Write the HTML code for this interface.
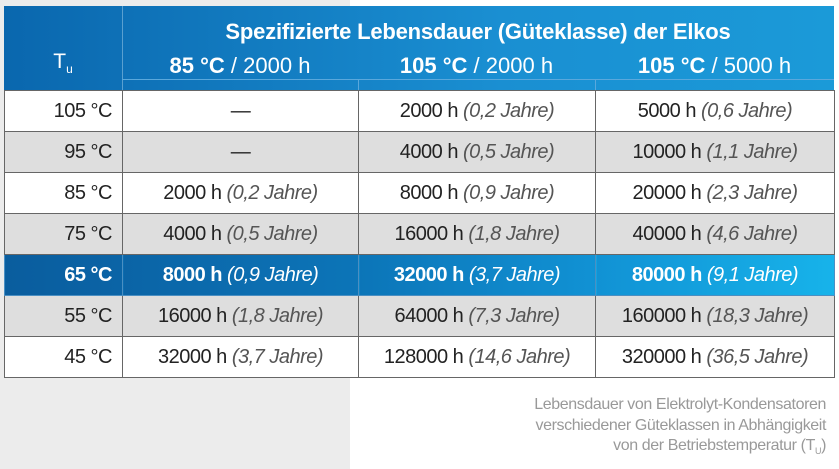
<!DOCTYPE html>
<html><head><meta charset="utf-8"><style>
body{margin:0;width:839px;height:469px;position:relative;overflow:hidden;background:#fff;font-family:"Liberation Sans",sans-serif}
.bgL{position:absolute;left:0;top:0;width:350px;height:469px;background:#ececec}
.bgT{position:absolute;left:0;top:0;width:839px;height:6px;background:#ececec}
.bgT2{position:absolute;left:350px;top:0;width:489px;height:6px;background:#fff}
table{position:absolute;left:4px;top:6px;border-collapse:collapse;width:831px}
td{border:1px solid #666;height:40px;padding:0;font-size:20px;color:#222;text-align:center;letter-spacing:-0.5px;white-space:nowrap}
td.t{text-align:right;padding-right:10px;width:107px}
td i{color:#555;font-weight:normal}
tr.g td{background:#dedede}
tr.w td{background:#fff}
tr.h td{color:#fff;font-weight:bold;border-color:#4b8fc2}
tr.h td i{color:#fff}
.hdr{position:absolute;left:4px;top:6px;width:830px;height:84px;background:linear-gradient(90deg,#0a67ae,#1a8fd2 60%,#1b9ad8);color:#fff}
.cap{position:absolute;right:13px;top:395px;text-align:right;color:#999;font-size:16px;line-height:20.5px;letter-spacing:-0.4px}
</style></head><body>
<div class="bgL"></div><div class="bgT"></div><div class="bgT2"></div>
<div class="hdr">
 <div style="position:absolute;left:118px;top:0;width:1px;height:84px;background:#5aa0d0"></div>
 <div style="position:absolute;left:118px;top:73px;width:712px;height:1px;background:#5aa8dc"></div>
 <div style="position:absolute;left:354px;top:73px;width:1px;height:11px;background:#5aa8dc"></div>
 <div style="position:absolute;left:591px;top:73px;width:1px;height:11px;background:#5aa8dc"></div>
 <div style="position:absolute;left:0;width:118px;top:44px;text-align:center;font-size:21px">T<sub style="font-size:12px">u</sub></div>
 <div style="position:absolute;left:118px;width:712px;top:13px;text-align:center;font-size:22px;font-weight:bold;letter-spacing:-0.2px">Spezifizierte Lebensdauer (Güteklasse) der Elkos</div>
 <div style="position:absolute;left:118px;width:236px;top:47px;text-align:center;font-size:22px"><b>85 °C</b> / 2000 h</div>
 <div style="position:absolute;left:354px;width:237px;top:47px;text-align:center;font-size:22px"><b>105 °C</b> / 2000 h</div>
 <div style="position:absolute;left:591px;width:239px;top:47px;text-align:center;font-size:22px"><b>105 °C</b> / 5000 h</div>
</div>
<table style="top:90px">
<tr class="w"><td class="t">105 °C</td><td style="width:235px">—</td><td style="width:236px">2000 h <i>(0,2 Jahre)</i></td><td>5000 h <i>(0,6 Jahre)</i></td></tr>
<tr class="g"><td class="t">95 °C</td><td>—</td><td>4000 h <i>(0,5 Jahre)</i></td><td>10000 h <i>(1,1 Jahre)</i></td></tr>
<tr class="w"><td class="t">85 °C</td><td>2000 h <i>(0,2 Jahre)</i></td><td>8000 h <i>(0,9 Jahre)</i></td><td>20000 h <i>(2,3 Jahre)</i></td></tr>
<tr class="g"><td class="t">75 °C</td><td>4000 h <i>(0,5 Jahre)</i></td><td>16000 h <i>(1,8 Jahre)</i></td><td>40000 h <i>(4,6 Jahre)</i></td></tr>
<tr class="h"><td class="t" style="background:linear-gradient(90deg,#0a5d9e,#0b64a6)">65 °C</td><td style="background:linear-gradient(90deg,#0b64a6,#0c75b8)">8000 h <i style="font-weight:normal">(0,9 Jahre)</i></td><td style="background:linear-gradient(90deg,#0c75b8,#1192d4)">32000 h <i style="font-weight:normal">(3,7 Jahre)</i></td><td style="background:linear-gradient(90deg,#1192d4,#17b3ea)">80000 h <i style="font-weight:normal">(9,1 Jahre)</i></td></tr>
<tr class="g"><td class="t">55 °C</td><td>16000 h <i>(1,8 Jahre)</i></td><td>64000 h <i>(7,3 Jahre)</i></td><td>160000 h <i>(18,3 Jahre)</i></td></tr>
<tr class="w"><td class="t">45 °C</td><td>32000 h <i>(3,7 Jahre)</i></td><td>128000 h <i>(14,6 Jahre)</i></td><td>320000 h <i>(36,5 Jahre)</i></td></tr>
</table>
<div class="cap">Lebensdauer von Elektrolyt-Kondensatoren<br>verschiedener Güteklassen in Abhängigkeit<br>von der Betriebstemperatur (T<sub style="font-size:9px">U</sub>)</div>
</body></html>
